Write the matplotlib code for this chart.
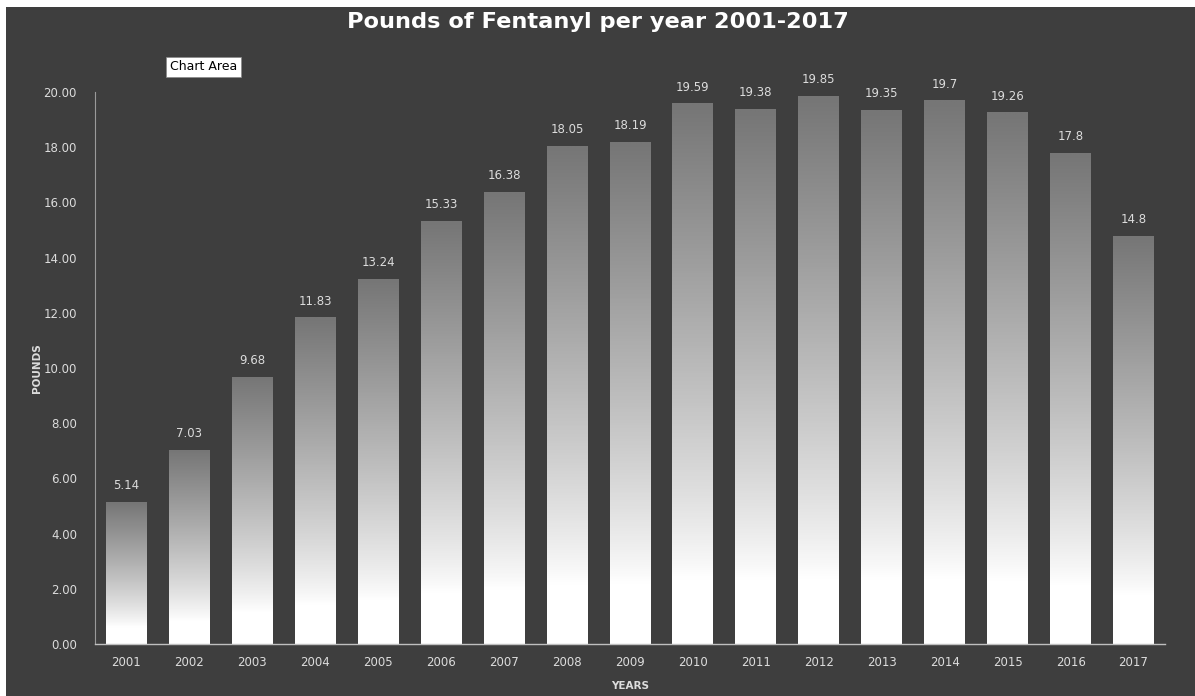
import numpy as np
import matplotlib
matplotlib.use('Agg')
from matplotlib import pyplot as plt
from matplotlib.patches import Rectangle

years = ['2001', '2002', '2003', '2004', '2005', '2006', '2007', '2008', '2009',
         '2010', '2011', '2012', '2013', '2014', '2015', '2016', '2017']
pounds = [5.14, 7.03, 9.68, 11.83, 13.24, 15.33, 16.38, 18.05, 18.19,
          19.59, 19.38, 19.85, 19.35, 19.7, 19.26, 17.8, 14.8]
labels = ['5.14', '7.03', '9.68', '11.83', '13.24', '15.33', '16.38', '18.05', '18.19',
          '19.59', '19.38', '19.85', '19.35', '19.7', '19.26', '17.8', '14.8']

bg = '#3e3e3e'
txt = '#dcdcdc'

fig = plt.figure(figsize=(11.95, 6.96), dpi=100)
fig.patch.set_facecolor('white')
# dark chart area, leaving the thin white edge top and left
fig.add_artist(Rectangle((6 / 1195, 0), 1 - 6 / 1195, 1 - 7 / 696,
                         transform=fig.transFigure, facecolor=bg,
                         edgecolor='none', zorder=0))

ax = fig.add_axes([95 / 1195, 52 / 696, 1070 / 1195, 552 / 696])
ax.set_facecolor(bg)
ax.patch.set_alpha(0)

x = np.arange(len(years))
bars = ax.bar(x, pounds, width=0.65, color='none', edgecolor='none', zorder=2)

# vertical gradient inside each bar: grey at the top easing into white near the base
lin = np.linspace(1.0, 0.0, 256).reshape(-1, 1)
grad = np.clip((lin - 0.12) / 0.88, 0, 1) ** 0.85
cmap = matplotlib.colors.LinearSegmentedColormap.from_list('g', ['#ffffff', '#767676'])
for b in bars:
    x0, w, h = b.get_x(), b.get_width(), b.get_height()
    im = ax.imshow(grad, extent=(x0, x0 + w, 0, h), origin='upper', cmap=cmap,
                   vmin=0, vmax=1, aspect='auto', zorder=2)
    im.set_clip_path(b)

for xi, v, lab in zip(x, pounds, labels):
    ax.text(xi, v + 0.35, lab, ha='center', va='bottom', color=txt,
            fontsize=8.5, zorder=3, clip_on=False)

ax.set_xlim(-0.5, len(years) - 0.5)
ax.set_ylim(0, 20)
ax.set_xticks(x)
ax.set_xticklabels(years)
ax.set_yticks(np.arange(0, 21, 2))
ax.set_yticklabels([f'{t:.2f}' for t in np.arange(0, 21, 2)])
ax.tick_params(axis='both', length=0, colors=txt, labelsize=8.5)
ax.tick_params(axis='x', pad=9)
ax.tick_params(axis='y', pad=13)

for s in ['top', 'right']:
    ax.spines[s].set_visible(False)
ax.spines['left'].set_color('#9a9a9a')
ax.spines['bottom'].set_color('#bfbfbf')
ax.spines['left'].set_linewidth(0.8)
ax.spines['bottom'].set_linewidth(1.0)

ax.set_ylabel('POUNDS', color=txt, fontsize=7.5, fontweight='bold', labelpad=1)
ax.set_xlabel('YEARS', color=txt, fontsize=7.5, fontweight='bold', labelpad=8)

fig.text(0.5, 1 - 22 / 696, 'Pounds of Fentanyl per year 2001-2017', ha='center',
         va='center', color='white', fontsize=16.2, fontweight='bold')

fig.text(170 / 1195, 1 - 67 / 696, 'Chart Area', ha='left', va='center',
         color='black', fontsize=9,
         bbox=dict(boxstyle='square,pad=0.3', facecolor='white', edgecolor='#888888', linewidth=0.5))

fig.savefig('out.png', dpi=100, facecolor=fig.get_facecolor())
